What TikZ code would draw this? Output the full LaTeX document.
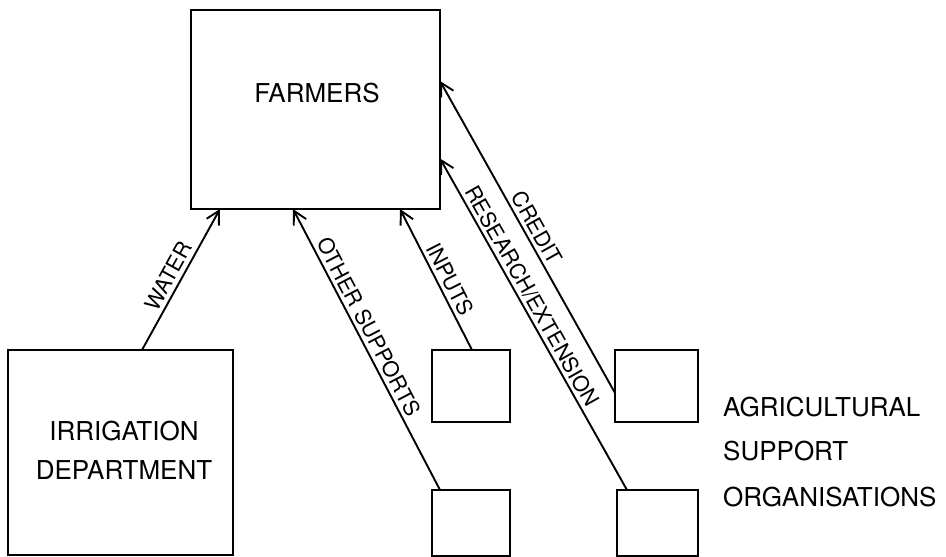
\documentclass[tikz,border=0pt]{standalone}
\usepackage{fontspec}
\setmainfont{TeX Gyre Heros}
\usetikzlibrary{arrows.meta}
\begin{document}
\begin{tikzpicture}[x=1pt,y=1pt,
  box/.style={draw, line width=2.3pt, inner sep=0pt, outer sep=0pt},
  captext/.style={inner sep=0pt, font=\fontsize{26}{26}\selectfont, text height=0.72em, text depth=0pt},
  flow/.style={line width=1.9pt, -{Straight Barb[length=13pt,width=14pt,line width=1.9pt]}},
  lab/.style={font=\fontsize{21.5}{21.5}\selectfont, sloped, above, inner sep=4pt, text height=0.72em, text depth=0pt}]
\useasboundingbox (0,0) rectangle (946,557);
% boxes
\node[box, minimum width=249pt, minimum height=199pt] (farmers) at (315.5,447.5) {};
\node[box, minimum width=225pt, minimum height=205pt] (irr) at (120.5,104.5) {};
\node[box, minimum width=78pt, minimum height=72pt] (b1) at (471,171) {};
\node[box, minimum width=83pt, minimum height=72pt] (b2) at (656.5,171) {};
\node[box, minimum width=78pt, minimum height=66pt] (b3) at (471,34) {};
\node[box, minimum width=81pt, minimum height=66pt] (b4) at (657.5,34) {};
% texts
\node[captext] (ft) at (317,458) {FARMERS};
\node[captext] (it1) at (124,120) {IRRIGATION};
\node[captext] (it2) at (124,81) {DEPARTMENT};
\node[captext, anchor=west] (a1) at (723,144) {AGRICULTURAL};
\node[captext, anchor=west] (a2) at (723,100) {SUPPORT};
\node[captext, anchor=west] (a3) at (723,54) {ORGANISATIONS};
% connectors
\draw[flow] ([xshift=21.5pt]irr.north) -- node[lab, pos=0.48] {WATER} ([xshift=29pt]farmers.south west);
\draw[flow] ([xshift=8pt]b3.north west) -- node[lab, pos=0.56] {OTHER SUPPORTS} ([xshift=102pt]farmers.south west);
\draw[flow] ([xshift=1pt]b1.north) -- node[lab, pos=0.46] {INPUTS} ([xshift=209pt]farmers.south west);
\draw[flow] ([xshift=10pt]b4.north west) -- node[lab, pos=0.566] {RESEARCH/EXTENSION} ([yshift=50.5pt]farmers.south east);
\draw[flow] ([yshift=-7pt]b2.west) -- node[lab, pos=0.51] {CREDIT} ([yshift=-71pt]farmers.north east);
\end{tikzpicture}
\end{document}
